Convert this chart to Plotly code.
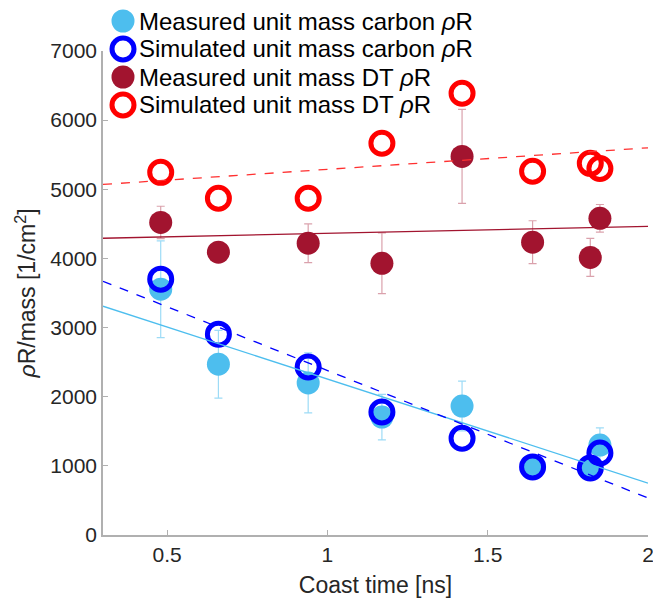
import plotly.graph_objects as go

# coast times [ns]
coast_time = [0.48, 0.66, 0.94, 1.17, 1.42, 1.64, 1.82, 1.85]

# carbon rhoR per unit mass [1/cm^2]
carbon_measured = [3555, 2470, 2200, 1705, 1865, 985, 970, 1300]
carbon_measured_err = [700, 490, 435, 330, 360, 150, 120, 250]
carbon_simulated = [3700, 2905, 2430, 1780, 1400, 985, 970, 1185]

# DT rhoR per unit mass [1/cm^2]
dt_measured = [4520, 4090, 4220, 3930, 5475, 4235, 4015, 4580]
dt_measured_err = [235, 120, 280, 440, 680, 310, 275, 200]
dt_simulated = [5245, 4870, 4870, 5665, 6390, 5260, 5375, 5300]

# linear fit lines (end points)
fit_x = [0.3, 2.0]
carbon_measured_fit = [3309, 751]
carbon_simulated_fit = [3670, 535]
dt_measured_fit = [4292, 4465]
dt_simulated_fit = [5070, 5600]

legend_names = [
    "Measured unit mass carbon <i>ρ</i>R",
    "Simulated unit mass carbon <i>ρ</i>R",
    "Measured unit mass DT <i>ρ</i>R",
    "Simulated unit mass DT <i>ρ</i>R",
]

LIGHT_BLUE = "#4DBEEE"
BLUE = "#0000FF"
DARK_RED = "#A2142F"
RED = "#FF0000"
FONT = "Liberation Sans, Arial, sans-serif"

fig = go.Figure()

fig.add_trace(go.Scatter(
    x=coast_time, y=carbon_measured, mode="markers",
    marker=dict(symbol="circle", size=23, color=LIGHT_BLUE),
    error_y=dict(type="data", array=carbon_measured_err, color="rgba(77,190,238,0.55)",
                 thickness=1.2, width=4),
    showlegend=False,
))
fig.add_trace(go.Scatter(
    x=coast_time, y=carbon_simulated, mode="markers",
    marker=dict(symbol="circle-open", size=22, color=BLUE, line=dict(color=BLUE, width=5)),
    showlegend=False,
))
fig.add_trace(go.Scatter(
    x=coast_time, y=dt_measured, mode="markers",
    marker=dict(symbol="circle", size=23, color=DARK_RED),
    error_y=dict(type="data", array=dt_measured_err, color="rgba(162,20,47,0.4)",
                 thickness=1.2, width=4),
    showlegend=False,
))
fig.add_trace(go.Scatter(
    x=coast_time, y=dt_simulated, mode="markers",
    marker=dict(symbol="circle-open", size=22, color=RED, line=dict(color=RED, width=5)),
    showlegend=False,
))

# fit lines on top
fig.add_trace(go.Scatter(x=fit_x, y=carbon_measured_fit, mode="lines",
                         line=dict(color=LIGHT_BLUE, width=1.3), showlegend=False))
fig.add_trace(go.Scatter(x=fit_x, y=carbon_simulated_fit, mode="lines",
                         line=dict(color=BLUE, width=1.3, dash="dash"), showlegend=False))
fig.add_trace(go.Scatter(x=fit_x, y=dt_measured_fit, mode="lines",
                         line=dict(color=DARK_RED, width=1.3), showlegend=False))
fig.add_trace(go.Scatter(x=fit_x, y=dt_simulated_fit, mode="lines",
                         line=dict(color="#FF3030", width=1.3, dash="dash"), showlegend=False))

# the page body has an 8px margin, so the figure is smaller and everything is shifted
W, H = 653, 590
left, top, plot_w, plot_h = 95, 43, 545, 484

# hand-made legend with big markers (plotly caps legend marker size)
legend_styles = [
    dict(fill=LIGHT_BLUE, line=LIGHT_BLUE, lw=0),
    dict(fill="white", line=BLUE, lw=5),
    dict(fill=DARK_RED, line=DARK_RED, lw=0),
    dict(fill="white", line=RED, lw=5),
]
shapes = []
annotations = []
for i, (name, st) in enumerate(zip(legend_names, legend_styles)):
    yc = 1 + (top - (13 + 28 * i)) / plot_h
    xc = (115 - left) / plot_w
    r = 11.5 if st["lw"] == 0 else 11
    shapes.append(dict(
        type="circle", xref="paper", yref="paper", xsizemode="pixel", ysizemode="pixel",
        xanchor=xc, yanchor=yc, x0=-r, x1=r, y0=-r, y1=r,
        fillcolor=st["fill"], line=dict(color=st["line"], width=st["lw"]),
    ))
    annotations.append(dict(
        text=name, xref="paper", yref="paper", x=(129 - left) / plot_w, y=yc,
        xanchor="left", yanchor="middle", showarrow=False,
        font=dict(family=FONT, size=24, color="black"),
    ))

fig.update_layout(
    width=W, height=H,
    margin=dict(l=left, r=W - left - plot_w, t=top, b=H - top - plot_h),
    plot_bgcolor="white", paper_bgcolor="white",
    font=dict(family=FONT, size=20, color="#262626"),
    shapes=shapes, annotations=annotations,
    showlegend=False,
)
fig.update_xaxes(
    range=[0.3, 2], tickvals=[0.5, 1, 1.5, 2], ticktext=["0.5", "1", "1.5", "2"],
    showgrid=False, zeroline=False, showline=True, linecolor="#b0b0b0", linewidth=1.5,
    ticks="inside", ticklen=5, tickcolor="#b0b0b0", automargin=False,
    ticklabeloverflow="allow",
    title=dict(text="Coast time [ns]", font=dict(size=23, color="#262626"), standoff=12),
    tickfont=dict(size=21, color="#262626"),
)
fig.update_yaxes(
    range=[0, 7000], tickvals=[0, 1000, 2000, 3000, 4000, 5000, 6000, 7000],
    showgrid=False, zeroline=False, showline=True, linecolor="#b0b0b0", linewidth=1.5,
    ticks="inside", ticklen=5, tickcolor="#b0b0b0", automargin=False,
    title=dict(text="<i>ρ</i>R/mass [1/cm<sup>2</sup>]", font=dict(size=23, color="#262626"),
               standoff=8),
    tickfont=dict(size=21, color="#262626"),
)

fig.write_html("out.html")
